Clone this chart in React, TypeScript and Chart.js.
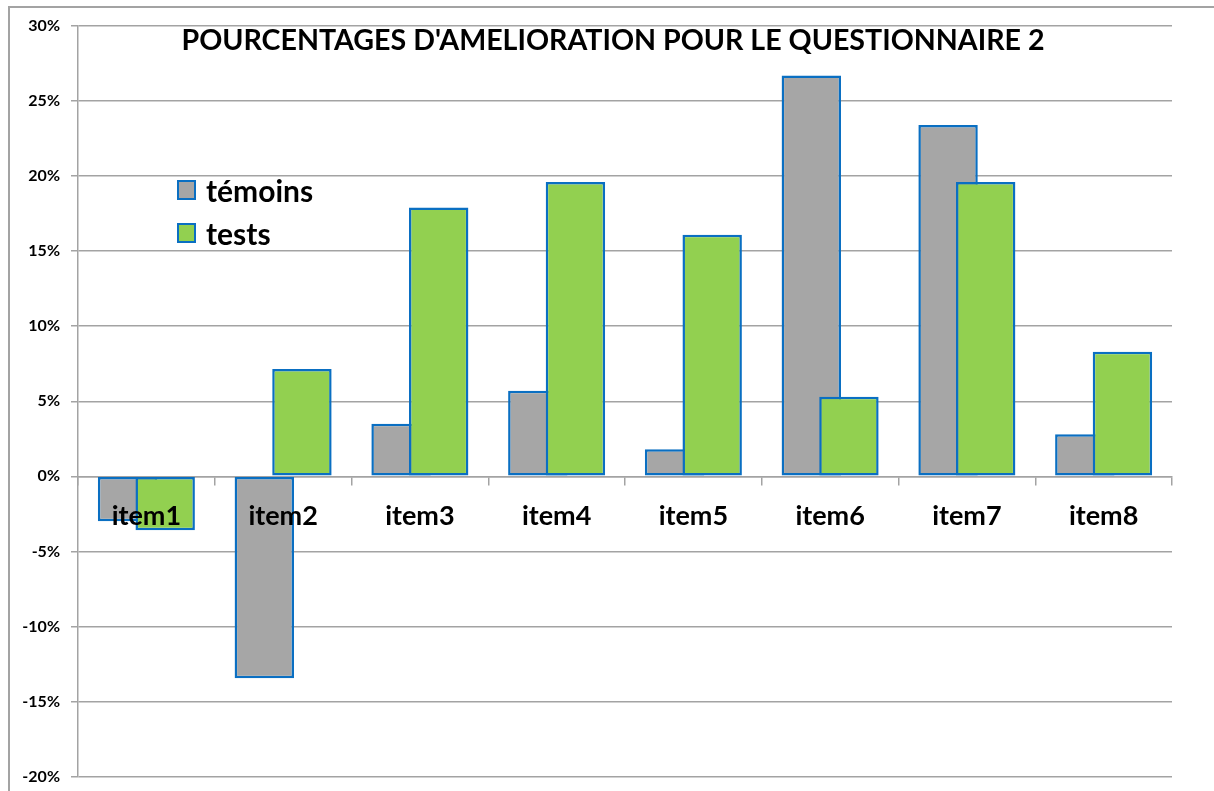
import React, { useEffect, useRef } from 'react';
import { Chart, registerables } from 'chart.js';

Chart.register(...registerables);

const categories = ['item1', 'item2', 'item3', 'item4', 'item5', 'item6', 'item7', 'item8'];
const temoins = [-3.0, -13.45, 3.5, 5.7, 1.8, 26.7, 23.4, 2.8];
const tests = [-3.6, 7.15, 17.9, 19.6, 16.1, 5.3, 19.6, 8.3];
const seriesNames = ['témoins', 'tests'];
const yMin = -20;
const yMax = 30;
const yStep = 5;
const titleText = "POURCENTAGES D'AMELIORATION POUR LE QUESTIONNAIRE 2";

const GREY = '#a6a6a6';
const GREEN = '#92d050';
const BLUE = '#0a6fc2';
const GRID = '#a3a3a3';
const FONT = 'Lato, "Open Sans", "Liberation Sans", sans-serif';

const drawOrderPlugin = {
  id: 'drawOrder',
  beforeDatasetsDraw(chart: any) {
    const metas = chart.getSortedVisibleDatasetMetas();
    metas.forEach((m: any) => m.controller.draw());
    return false;
  },
};

export default function App() {
  const ref = useRef<HTMLCanvasElement>(null);
  useEffect(() => {
    const chart = new Chart(ref.current as HTMLCanvasElement, {
      type: 'bar',
      data: {
        labels: categories,
        datasets: [
          {
            label: seriesNames[0],
            data: temoins,
            backgroundColor: GREY,
            borderColor: BLUE,
            borderWidth: 2.5,
            borderSkipped: false,
            categoryPercentage: 0.55,
            barPercentage: 1.58,
          },
          {
            label: seriesNames[1],
            data: tests,
            backgroundColor: GREEN,
            borderColor: BLUE,
            borderWidth: 2.5,
            borderSkipped: false,
            categoryPercentage: 0.55,
            barPercentage: 1.58,
          },
        ],
      },
      options: {
        animation: false,
        responsive: false,
        devicePixelRatio: 1,
        layout: { padding: { left: 8, top: 26, right: 42, bottom: 14.5 } },
        plugins: {
          legend: { display: false },
          title: { display: false },
          tooltip: { enabled: false },
        },
        scales: {
          x: {
            position: { y: 0 } as any,
            offset: true,
            grid: {
              display: true,
              drawOnChartArea: false,
              drawTicks: true,
              tickLength: 8,
              color: GRID,
              lineWidth: 1.5,
            },
            border: { display: true, color: GRID, width: 1.5 },
            ticks: {
              z: 1,
              color: '#000',
              font: { family: FONT, weight: 'bold', size: 27 },
              padding: 16,
            },
            afterFit: (s: any) => {
              s.height = 0;
              s.paddingTop = 0;
              s.paddingBottom = 0;
            },
          },
          y: {
            min: yMin,
            max: yMax,
            grid: { color: GRID, lineWidth: 1.5, tickLength: 7 },
            border: { display: true, color: GRID, width: 1.5 },
            ticks: {
              stepSize: yStep,
              color: '#000',
              font: { family: FONT, weight: 'bold', size: 16 },
              padding: 11,
              callback: (v: any) => `${v}%`,
            },
            afterFit: (s: any) => {
              s.width = 70;
              s.paddingTop = 0;
              s.paddingBottom = 0;
            },
          },
        },
      },
      plugins: [drawOrderPlugin],
    });
    return () => chart.destroy();
  }, []);

  const legendItem = (name: string, color: string, top: number) => (
    <div
      key={name}
      style={{ position: 'absolute', left: 177, top, display: 'flex', alignItems: 'center', height: 34 }}
    >
      <div
        style={{
          width: 15,
          height: 16,
          background: color,
          border: `2.5px solid ${BLUE}`,
          marginRight: 10,
        }}
      />
      <span style={{ fontFamily: FONT, fontWeight: 700, fontSize: 30, color: '#000', lineHeight: '34px' }}>{name}</span>
    </div>
  );

  return (
    <div style={{ position: 'fixed', left: 0, top: 0, width: 1214, height: 791, overflow: 'hidden', background: '#fff' }}>
      <div
        style={{
          position: 'absolute',
          left: 8,
          top: 6,
          width: 1400,
          height: 1000,
          borderLeft: `2px solid ${GRID}`,
          borderTop: `2px solid ${GRID}`,
        }}
      />
      <canvas ref={ref} width={1214} height={791} style={{ position: 'absolute', left: 0, top: 0 }} />
      <div
        style={{
          position: 'absolute',
          left: 0,
          width: 1226,
          top: 20,
          textAlign: 'center',
          fontFamily: FONT,
          fontWeight: 700,
          fontSize: 28.6,
          lineHeight: '38px',
          color: '#000',
          whiteSpace: 'nowrap',
        }}
      >
        {titleText}
      </div>
      {legendItem(seriesNames[0], GREY, 173)}
      {legendItem(seriesNames[1], GREEN, 216)}
    </div>
  );
}
